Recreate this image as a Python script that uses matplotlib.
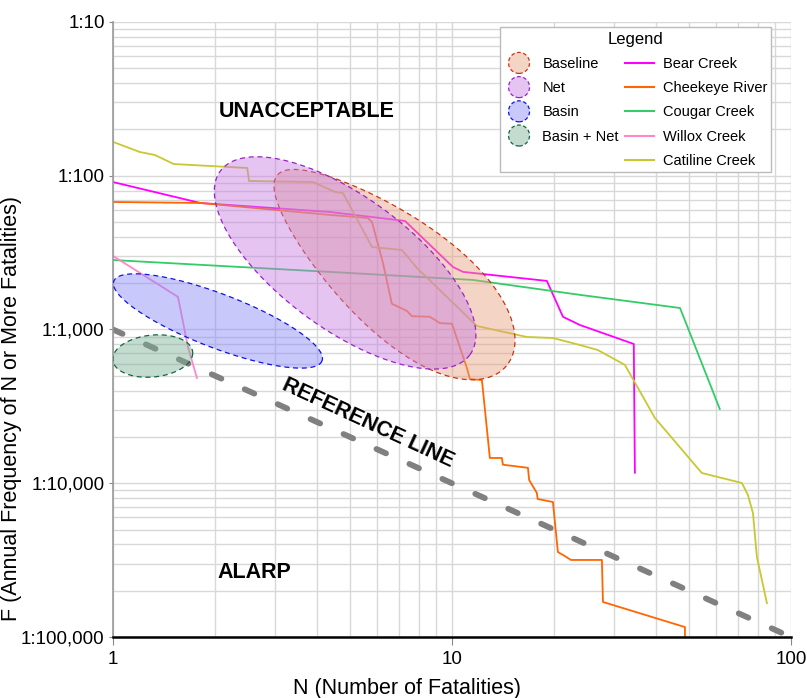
import numpy as np
import matplotlib
matplotlib.use("Agg")
import matplotlib.pyplot as plt
import matplotlib.patches as mpatches
from matplotlib.legend_handler import HandlerPatch
from matplotlib.colors import to_rgba

plt.rcParams['font.family'] = ['Liberation Sans', 'DejaVu Sans']

# F-N curves (N = number of fatalities, F = annual frequency of N or more)
bear_n = [1, 1.81, 4.37, 7.27, 10.07, 10.78, 19.06, 21.26, 23.85, 34.4, 34.66]
bear_f = [0.0091, 0.00665, 0.00581, 0.00508, 0.00255, 0.00237, 0.00207,
          0.00121, 0.00107, 0.000805, 0.000117]

cheekeye_n = [1, 1.81, 4.37, 5.65, 5.81, 6.26, 6.65, 7.37, 7.62, 8.61, 9.22,
              10.0, 11.07, 11.30, 12.26, 12.94, 14.04, 14.14, 16.76, 16.9,
              17.81, 17.9, 19.86, 20.54, 21.54, 22.44, 27.7, 27.9, 48.7, 48.7]
cheekeye_f = [0.00675, 0.00665, 0.00556, 0.00531, 0.0050, 0.00271, 0.00147,
              0.00132, 0.00122, 0.00121, 0.00110, 0.00109, 0.000562, 0.000476,
              0.000469, 0.000146, 0.000146, 0.000132, 0.000126, 0.000105,
              8.64e-5, 7.9e-5, 7.55e-5, 3.57e-5, 3.36e-5, 3.17e-5, 3.17e-5,
              1.69e-5, 1.16e-5, 9.5e-6]

cougar_n = [1, 5.0, 11.53, 23.85, 47.1, 61.7]
cougar_f = [0.00283, 0.00233, 0.0021, 0.00168, 0.00138, 0.000304]

willox_n = [1, 1.555, 1.664, 1.769]
willox_f = [0.00301, 0.00163, 0.00077, 0.000484]

catiline_n = [1, 1.20, 1.33, 1.51, 2.49, 2.52, 3.89, 4.52, 4.77, 5.81, 7.12,
              7.89, 11.85, 16.64, 19.86, 23.85, 26.96, 32.4, 39.7, 54.6, 71.7,
              74.7, 77.3, 79.4, 85.0]
catiline_f = [0.0166, 0.01427, 0.01364, 0.01192, 0.01123, 0.00924, 0.0091,
              0.00784, 0.00772, 0.00344, 0.00329, 0.00251, 0.001054, 0.000894,
              0.00088, 0.000793, 0.000735, 0.000588, 0.000266, 0.0001166,
              0.0001004, 8.39e-5, 6.4e-5, 3.31e-5, 1.66e-5]

# reference line
ref_n = [1, 100]
ref_f = [1e-3, 1e-5]

# scenario regions: centre, and semi-axes given in decades (log10 N, log10 F)
region_names = ["Baseline", "Net", "Basin", "Basin + Net"]
region_center_n = [6.65, 4.84, 2.04, 1.31]
region_center_f = [2.42e-3, 2.71e-3, 1.136e-3, 6.72e-4]
region_major = [(0.338, -0.620), (0.368, -0.598), (0.307, -0.260), (0.118, 0.0195)]
region_minor = [(-0.108, -0.285), (-0.116, -0.345), (-0.0295, -0.1626), (0.0, -0.1366)]
region_egg = [0.25, 0.0, 0.0, 0.0]
region_face = ["#e8a080", "#c77ce2", "#8585f8", "#7cb197"]
region_edge = ["#cc3311", "#9922cc", "#1111ee", "#116644"]

y_ticks = [1e-5, 1e-4, 1e-3, 1e-2, 1e-1]
y_labels = ["1:100,000", "1:10,000", "1:1,000", "1:100", "1:10"]


def region(i):
    t = np.linspace(0, 2 * np.pi, 300)
    w = 1 + region_egg[i] * np.cos(t)
    cx = np.log10(region_center_n[i])
    cy = np.log10(region_center_f[i])
    mx, my = region_major[i]
    nx, ny = region_minor[i]
    x = cx + mx * np.cos(t) + nx * np.sin(t) * w
    y = cy + my * np.cos(t) + ny * np.sin(t) * w
    return 10 ** x, 10 ** y


class HandlerCircle(HandlerPatch):
    def create_artists(self, legend, orig_handle, xdescent, ydescent,
                       width, height, fontsize, trans):
        center = 0.5 * width - 0.5 * xdescent, 0.5 * height - 0.5 * ydescent
        p = mpatches.Circle(center, radius=0.72 * fontsize)
        self.update_prop(p, orig_handle, legend)
        p.set_transform(trans)
        return [p]


fig = plt.figure(figsize=(8.07, 6.98), dpi=100)
ax = fig.add_axes([0.140, 0.0874, 0.840, 0.8811])
ax.set_xscale("log")
ax.set_yscale("log")
ax.set_xlim(1, 100)
ax.set_ylim(1e-5, 1e-1)

ax.grid(True, which="both", color="#d8d8d8", lw=1.0)
ax.set_axisbelow(True)

ax.plot(bear_n, bear_f, color="#ff00ff", lw=1.3, zorder=2)
ax.plot(cheekeye_n, cheekeye_f, color="#ff6600", lw=1.3, zorder=2)
ax.plot(cougar_n, cougar_f, color="#33cc66", lw=1.3, zorder=2)
ax.plot(willox_n, willox_f, color="#ff88c8", lw=1.3, zorder=2)
ax.plot(catiline_n, catiline_f, color="#c8c832", lw=1.3, zorder=2)

ax.plot(ref_n, ref_f, color="#808080", lw=4.2, dashes=(1.8, 4.4),
        dash_capstyle="round", zorder=2)

region_handles = []
for i, name in enumerate(region_names):
    xs, ys = region(i)
    ax.fill(xs, ys, facecolor=to_rgba(region_face[i], 0.45),
            edgecolor=region_edge[i], lw=0.9, linestyle=(0, (4, 3)), zorder=3)
    region_handles.append(mpatches.Patch(facecolor=to_rgba(region_face[i], 0.45),
                                         edgecolor=region_edge[i], lw=0.9,
                                         linestyle=(0, (3, 2)), label=name))

ax.text(3.735, 0.026, "UNACCEPTABLE", fontsize=15.5, fontweight="bold",
        ha="center", va="center", zorder=4)
ax.text(2.62, 2.61e-5, "ALARP", fontsize=15.5, fontweight="bold",
        ha="center", va="center", zorder=4)
ax.text(5.65, 2.47e-4, "REFERENCE LINE", fontsize=15.5, fontweight="bold",
        rotation=-24.8, rotation_mode="anchor", ha="center", va="center", zorder=4)

ax.set_yticks(y_ticks)
ax.set_yticklabels(y_labels)
ax.set_xticks([1, 10, 100])
ax.set_xticklabels(["1", "10", "100"])
ax.yaxis.set_minor_formatter(plt.NullFormatter())
ax.xaxis.set_minor_formatter(plt.NullFormatter())
ax.tick_params(which="minor", length=0)
ax.tick_params(axis="y", which="major", length=3, pad=3, color="#888888",
               labelsize=13.5)
ax.tick_params(axis="x", which="major", length=6, pad=4, color="#888888",
               labelsize=13.5)

for s in ["top", "right"]:
    ax.spines[s].set_visible(False)
ax.spines["left"].set_color("#999999")
ax.spines["left"].set_linewidth(1.2)
ax.spines["bottom"].set_color("black")
ax.spines["bottom"].set_linewidth(1.8)

ax.set_xlabel("N (Number of Fatalities)", fontsize=15.5)
ax.set_ylabel("F (Annual Frequency of N or More Fatalities)", fontsize=15.5)
ax.xaxis.set_label_coords(0.434, -0.066)
ax.yaxis.set_label_coords(-0.134, 0.372)

blank = plt.Line2D([], [], linestyle="none", label=" ")
line_handles = [
    plt.Line2D([], [], color="#ff00ff", lw=1.5, label="Bear Creek"),
    plt.Line2D([], [], color="#ff6600", lw=1.5, label="Cheekeye River"),
    plt.Line2D([], [], color="#33cc66", lw=1.5, label="Cougar Creek"),
    plt.Line2D([], [], color="#ff88c8", lw=1.5, label="Willox Creek"),
    plt.Line2D([], [], color="#c8c832", lw=1.5, label="Catiline Creek"),
]
handles = region_handles + [blank] + line_handles
leg = ax.legend(handles=handles, ncol=2, loc="upper right",
                bbox_to_anchor=(0.982, 1.003), title="Legend",
                title_fontsize=12, fontsize=10.5, fancybox=False,
                edgecolor="#bbbbbb", framealpha=1, borderpad=0.3,
                handlelength=2.0, handletextpad=0.6, columnspacing=0.4,
                labelspacing=0.7,
                handler_map={mpatches.Patch: HandlerCircle()})
leg.set_zorder(5)
leg.get_frame().set_linewidth(1.0)

fig.savefig("out.png", dpi=100)
